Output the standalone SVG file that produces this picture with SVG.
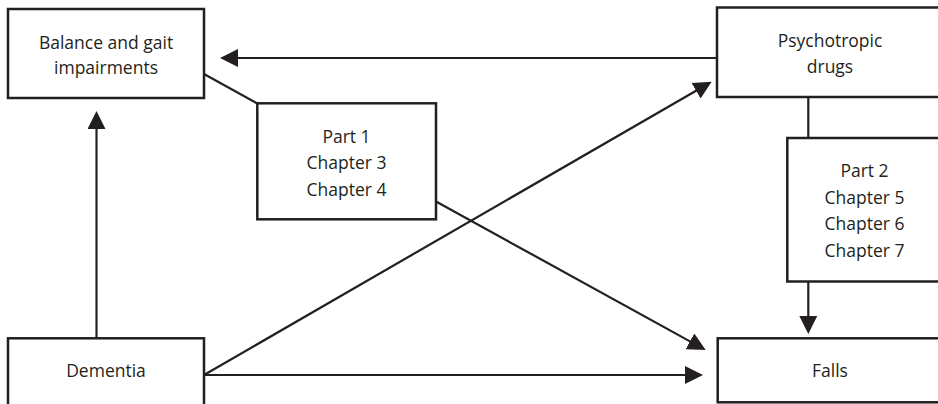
<svg xmlns="http://www.w3.org/2000/svg" width="938" height="404" viewBox="0 0 938 404">
<style>
.box{fill:#fff;stroke:#231f20;stroke-width:2.5}
.ln{fill:none;stroke:#231f20;stroke-width:2.2}
text{font-family:"Open Sans","Noto Sans","Liberation Sans",sans-serif;font-size:17.5px;fill:#231f20;text-anchor:middle}
</style>
<defs>
<marker id="ah" markerUnits="userSpaceOnUse" viewBox="0 0 18 18" markerWidth="18" markerHeight="18" refX="14" refY="9" orient="auto">
<path d="M0,0 L18,9 L0,18 z" fill="#231f20"/>
</marker>
</defs>
<rect width="938" height="404" fill="#fff"/>
<g id="connectors">
<line class="ln" x1="717" y1="58" x2="224" y2="58" marker-end="url(#ah)"/>
<line class="ln" x1="96.5" y1="338" x2="96.5" y2="115" marker-end="url(#ah)"/>
<line class="ln" x1="204" y1="375" x2="699" y2="375" marker-end="url(#ah)"/>
<line class="ln" x1="204" y1="375" x2="708.2" y2="83.7" marker-end="url(#ah)"/>
<line class="ln" x1="204" y1="74" x2="257" y2="103.3"/>
<line class="ln" x1="436" y1="201.5" x2="702.2" y2="348.1" marker-end="url(#ah)"/>
<line class="ln" x1="808.3" y1="97" x2="808.3" y2="138"/>
<line class="ln" x1="808.3" y1="282" x2="808.3" y2="330" marker-end="url(#ah)"/>
</g>
<g id="balance">
<rect class="box" x="8" y="9" width="196" height="89"/>
<text x="106" y="48.5">Balance and gait</text>
<text x="106" y="73.5">impairments</text>
</g>
<g id="psychotropic">
<rect class="box" x="717" y="7.5" width="228" height="89.5"/>
<text x="830" y="46.5">Psychotropic</text>
<text x="830" y="72.5">drugs</text>
</g>
<g id="part1">
<rect class="box" x="257.3" y="103.3" width="178.7" height="116"/>
<text x="346.5" y="142.5">Part 1</text>
<text x="346.5" y="169.3">Chapter 3</text>
<text x="346.5" y="196">Chapter 4</text>
</g>
<g id="part2">
<rect class="box" x="787.3" y="138" width="160" height="143.5"/>
<text x="864.5" y="177.3">Part 2</text>
<text x="864.5" y="204">Chapter 5</text>
<text x="864.5" y="230.4">Chapter 6</text>
<text x="864.5" y="256.8">Chapter 7</text>
</g>
<g id="dementia">
<rect class="box" x="8" y="338.3" width="196" height="80"/>
<text x="106" y="376.7">Dementia</text>
</g>
<g id="falls">
<rect class="box" x="717.7" y="338.3" width="228" height="64"/>
<text x="830" y="376.7">Falls</text>
</g>
</svg>
